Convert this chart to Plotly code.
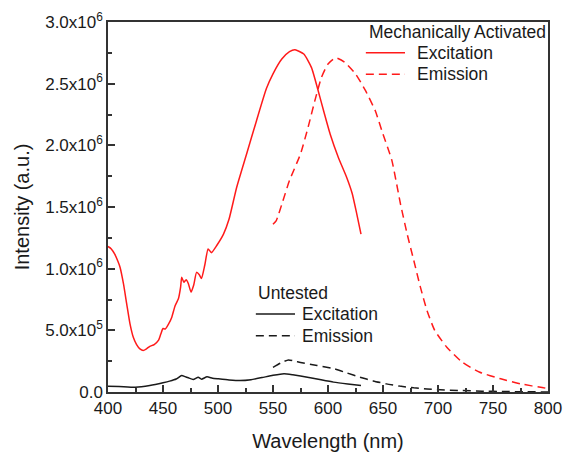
import plotly.graph_objects as go

# ---- data (intensity in units of 1e6 a.u.) ----
ma_exc_wl = [400, 403, 406, 409, 411, 414, 417, 420, 423, 426, 429, 432, 435, 438, 442, 446, 448, 450,
             452, 455, 458, 461, 464, 466, 467, 469, 471, 473, 475.5, 478, 480.5, 483, 485, 488, 491,
             494, 499, 505, 510, 517, 526, 535, 544, 550, 558, 565, 570, 578, 585, 591, 596, 602,
             609.5, 617, 622, 626, 630]
ma_exc_val = [1.18, 1.16, 1.12, 1.06, 1.01, 0.88, 0.715, 0.553, 0.444, 0.385, 0.350, 0.337, 0.350,
              0.370, 0.385, 0.420, 0.470, 0.515, 0.51, 0.55, 0.607, 0.70, 0.756, 0.85, 0.93, 0.89,
              0.91, 0.88, 0.81, 0.87, 0.97, 0.95, 0.92, 1.03, 1.16, 1.13, 1.19, 1.28, 1.40, 1.66,
              1.93, 2.20, 2.46, 2.58, 2.70, 2.76, 2.775, 2.74, 2.63, 2.445, 2.28, 2.09, 1.90, 1.74,
              1.61, 1.45, 1.28]

ma_em_wl = [550, 553, 559, 565, 575, 582, 588, 594, 600, 607, 615, 625, 634, 643, 650, 658, 666, 672,
            678, 684, 690, 697, 708, 722, 738, 757, 775, 796, 800]
ma_em_val = [1.36, 1.39, 1.55, 1.715, 1.93, 2.15, 2.36, 2.55, 2.66, 2.71, 2.675, 2.58, 2.445, 2.28,
             2.09, 1.88, 1.52, 1.28, 1.066, 0.85, 0.66, 0.50, 0.363, 0.242, 0.16, 0.107, 0.066,
             0.034, 0.03]

un_exc_wl = [400, 410, 425, 438, 450, 456, 462, 467, 470, 473, 477.5, 482, 485, 490, 495, 500, 510,
             520, 530, 540, 550, 560, 568, 575, 590, 605, 618, 630]
un_exc_val = [0.047, 0.045, 0.039, 0.053, 0.075, 0.088, 0.105, 0.134, 0.125, 0.115, 0.101, 0.12,
              0.104, 0.123, 0.112, 0.107, 0.098, 0.093, 0.10, 0.117, 0.135, 0.148, 0.14, 0.13,
              0.105, 0.08, 0.065, 0.053]

un_em_wl = [550, 557, 564, 570, 575, 590, 605, 617, 629, 641, 653, 665, 678, 690, 702, 720, 740, 760,
            780, 800]
un_em_val = [0.20, 0.235, 0.26, 0.25, 0.24, 0.215, 0.19, 0.155, 0.12, 0.09, 0.066, 0.048, 0.034,
             0.025, 0.018, 0.012, 0.007, 0.004, 0.002, 0.0]

y_tick_vals = [0, 0.5e6, 1.0e6, 1.5e6, 2.0e6, 2.5e6, 3.0e6]
y_tick_text = ["0.0", "5.0x10<sup>5</sup>", "1.0x10<sup>6</sup>", "1.5x10<sup>6</sup>",
               "2.0x10<sup>6</sup>", "2.5x10<sup>6</sup>", "3.0x10<sup>6</sup>"]

legend_titles = ["Mechanically Activated", "Untested"]
legend_items = ["Excitation", "Emission"]

S = 1e6
RED = "#ff1a1a"
BLK = "#1a1a1a"
TXT = "#1a1a1a"
DASH = "8px,5px"
FONT = "Liberation Sans, Arial, sans-serif"

fig = go.Figure()
series = [
    (ma_exc_wl, ma_exc_val, RED, "solid", legend_titles[0] + " " + legend_items[0]),
    (ma_em_wl, ma_em_val, RED, DASH, legend_titles[0] + " " + legend_items[1]),
    (un_exc_wl, un_exc_val, BLK, "solid", legend_titles[1] + " " + legend_items[0]),
    (un_em_wl, un_em_val, BLK, DASH, legend_titles[1] + " " + legend_items[1]),
]
for wl, val, col, dash, nm in series:
    fig.add_trace(go.Scatter(x=wl, y=[v * S for v in val], mode="lines", name=nm, showlegend=False,
                             line=dict(color=col, width=1.5, dash=dash, shape="spline", smoothing=0.5)))

# ---- hand-placed legend blocks (paper coordinates) ----
annotations = []
shapes = []
legend_blocks = [
    # title x, title y, line x0, line x1, text x, row y's, colour
    (0.588, 0.973, 0.586, 0.675, 0.698, [0.917, 0.859], RED, legend_titles[0]),
    (0.336, 0.267, 0.336, 0.425, 0.436, [0.211, 0.152], BLK, legend_titles[1]),
]
for tx, ty, lx0, lx1, txx, rows, col, title in legend_blocks:
    annotations.append(dict(text=title, x=tx, y=ty, xref="paper", yref="paper", xanchor="left",
                            yanchor="middle", showarrow=False, font=dict(size=17.5, color=TXT)))
    for ry, label, dash in zip(rows, legend_items, ["solid", DASH]):
        shapes.append(dict(type="line", xref="paper", yref="paper", x0=lx0, x1=lx1, y0=ry, y1=ry,
                           line=dict(color=col, width=1.5, dash=dash)))
        annotations.append(dict(text=label, x=txx, y=ry, xref="paper", yref="paper", xanchor="left",
                                yanchor="middle", showarrow=False, font=dict(size=17.5, color=TXT)))

axis_common = dict(showline=True, linecolor="#333333", linewidth=1.5, mirror=True,
                   ticks="inside", tickcolor="#333333", tickwidth=1.5, ticklen=7,
                   showgrid=False, zeroline=False, automargin=False,
                   tickfont=dict(family=FONT, size=17, color=TXT))

fig.update_layout(
    width=565, height=452,
    margin=dict(l=108, r=17, t=22, b=60),
    plot_bgcolor="white", paper_bgcolor="white",
    font=dict(family=FONT, size=17, color=TXT),
    showlegend=False,
    xaxis=dict(range=[400, 800], dtick=50, tick0=400,
               minor=dict(ticks="inside", dtick=25, ticklen=4, tickcolor="#333333", tickwidth=1.5),
               title=dict(text="Wavelength (nm)", font=dict(family=FONT, size=20), standoff=17),
               **axis_common),
    yaxis=dict(range=[0, 3.0e6], tickvals=y_tick_vals, ticktext=y_tick_text,
               minor=dict(ticks="inside", dtick=0.25e6, ticklen=4, tickcolor="#333333", tickwidth=1.5),
               title=dict(text="Intensity (a.u.)", font=dict(family=FONT, size=20), standoff=10),
               **axis_common),
    annotations=annotations,
    shapes=shapes,
)

fig.write_html("out.html", config={"displayModeBar": False},
               post_script="document.body.style.margin='0px';document.body.style.overflow='hidden';")
